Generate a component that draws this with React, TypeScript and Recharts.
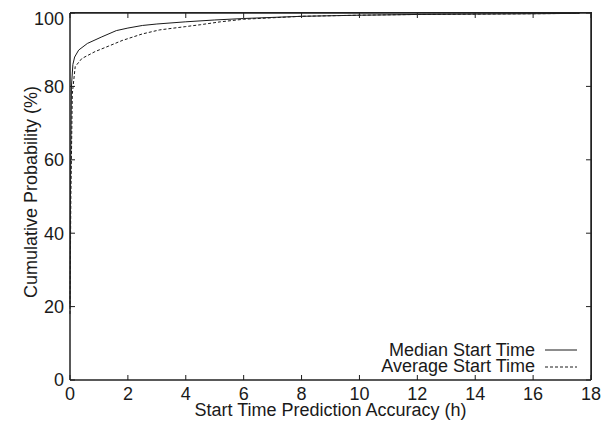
import React from 'react';
import { LineChart, Line, XAxis, YAxis, Legend } from 'recharts';

// CDF of start time prediction error (hours)
const medianX = [0, 0.02, 0.05, 0.1, 0.16, 0.3, 0.6, 1.1, 1.6, 2.0, 2.5, 3.0, 4.0, 5.0, 6.0, 8.0, 10.0, 12.0, 14.0, 16.0, 17.6];
const medianY = [20, 55, 80, 86, 88, 89.9, 91.7, 93.5, 95.2, 95.9, 96.6, 97.0, 97.6, 98.1, 98.5, 99.1, 99.4, 99.6, 99.7, 99.8, 99.9];

const averageX = [0, 0.03, 0.08, 0.18, 0.41, 0.87, 1.34, 1.8, 2.5, 3.1, 4.0, 4.5, 5.2, 6.0, 8.0, 10.0, 12.0, 14.0, 16.0, 17.6];
const averageY = [18, 50, 78, 85.4, 87.6, 89.5, 91.0, 92.5, 94.3, 95.4, 96.3, 96.8, 97.6, 98.3, 99.1, 99.4, 99.6, 99.7, 99.8, 99.9];

const xTicks = [0, 2, 4, 6, 8, 10, 12, 14, 16, 18];
const yTicks = [0, 20, 40, 60, 80, 100];

const seriesNames = ['Median Start Time', 'Average Start Time'];
const seriesDash = ['', '3 2'];

const medianData = medianX.map((x, i) => ({ x, y: medianY[i] }));
const averageData = averageX.map((x, i) => ({ x, y: averageY[i] }));

const FONT = '"Liberation Sans", Arial, Helvetica, sans-serif';
const INK = '#1a1a1a';

const LegendBox = () => (
  <div style={{ fontFamily: FONT, fontSize: 18, lineHeight: '16.5px', color: INK }}>
    {seriesNames.map((name, i) => (
      <div key={name} style={{ display: 'flex', justifyContent: 'flex-end', alignItems: 'center', height: 16.5 }}>
        <span style={{ whiteSpace: 'nowrap' }}>{name}</span>
        <svg width={42} height={16} style={{ flex: 'none' }}>
          <line x1={10} x2={42} y1={8} y2={8} stroke={INK} strokeWidth={1} strokeDasharray={seriesDash[i] || undefined} />
        </svg>
      </div>
    ))}
  </div>
);

const blank = () => '';

export default function App() {
  const tickStyle = { fontSize: 18, fill: INK, fontFamily: FONT };
  const frame = { stroke: '#222', strokeWidth: 1.5 };
  return (
    <div style={{ fontFamily: FONT, width: 600, height: 414, position: 'relative' }}>
      <LineChart width={600} height={414} margin={{ top: 3, right: 15, left: 0, bottom: 0 }}>
        <XAxis
          type="number"
          dataKey="x"
          domain={[0, 18]}
          ticks={xTicks}
          height={42}
          tickSize={-5}
          tickMargin={12}
          tick={tickStyle}
          stroke={INK}
          axisLine={frame}
          label={{
            content: ({ viewBox }: any) => (
              <text x={viewBox.x + viewBox.width / 2} y={408} textAnchor="middle" fontSize={18} fill={INK} fontFamily={FONT}>
                Start Time Prediction Accuracy (h)
              </text>
            ),
          }}
        />
        <XAxis xAxisId="top" orientation="top" type="number" dataKey="x" domain={[0, 18]} ticks={xTicks} height={2} tickSize={-5} tickMargin={0} tickFormatter={blank} tick={{ fontSize: 1 }} stroke="#222" axisLine={frame} />
        <YAxis
          type="number"
          domain={[0, 100]}
          ticks={yTicks}
          width={62}
          tickSize={-5}
          tickMargin={11}
          tick={tickStyle}
          stroke={INK}
          axisLine={frame}
          label={{
            content: () => (
              <text x={0} y={0} transform="translate(23, 184) rotate(-90)" textAnchor="middle" dominantBaseline="central" fontSize={18} fill={INK} fontFamily={FONT}>
                Cumulative Probability (%)
              </text>
            ),
          }}
        />
        <YAxis yAxisId="right" orientation="right" type="number" domain={[0, 100]} ticks={yTicks} width={2} tickSize={-5} tickMargin={0} tickFormatter={blank} tick={{ fontSize: 1 }} stroke="#222" axisLine={frame} />
        <Legend
          layout="vertical"
          align="center"
          verticalAlign="middle"
          content={() => <LegendBox />}
          wrapperStyle={{ left: 269, top: 333.75, width: 300, height: 33 }}
        />
        <Line data={medianData} dataKey="y" name={seriesNames[0]} type="linear" stroke={INK} strokeWidth={1} dot={false} isAnimationActive={false} />
        <Line data={averageData} dataKey="y" name={seriesNames[1]} type="linear" stroke={INK} strokeWidth={1} strokeDasharray={seriesDash[1]} dot={false} isAnimationActive={false} />
        {/* transparent series bound to the mirrored top/right axes */}
        <Line data={medianData} dataKey="y" xAxisId="top" yAxisId="right" stroke="transparent" dot={false} activeDot={false} legendType="none" isAnimationActive={false} />
      </LineChart>
      {/* top and right edges of the plot box */}
      <div
        style={{
          position: 'absolute',
          left: 62,
          top: 4,
          width: 522,
          height: 368,
          boxSizing: 'border-box',
          borderTop: '1.5px solid #222',
          borderRight: '1.5px solid #222',
          pointerEvents: 'none',
        }}
      />
    </div>
  );
}
